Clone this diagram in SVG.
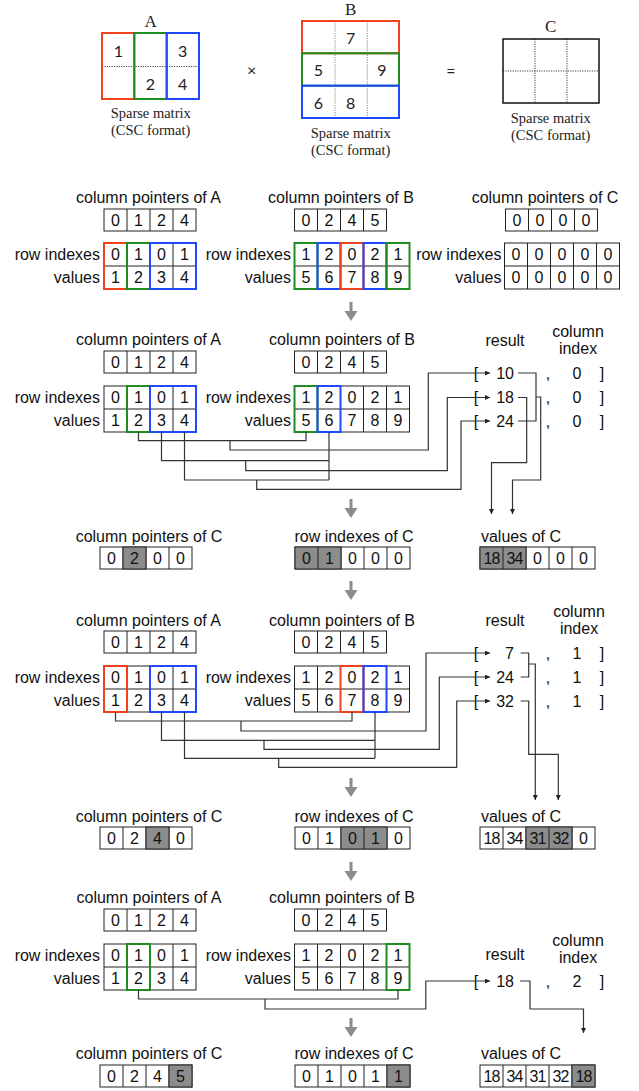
<svg xmlns="http://www.w3.org/2000/svg" width="639" height="1091" viewBox="0 0 639 1091">
<style>
.s{font-family:"Liberation Sans",Arial,sans-serif;font-size:16px;fill:#111;dominant-baseline:central}
.m{text-anchor:middle}
.e{text-anchor:end}
.sf{font-family:"Liberation Serif","Times New Roman",serif;fill:#222;text-anchor:middle;dominant-baseline:central}
.cap{font-size:14.5px}
.ttl{font-size:17px}
.md{font-family:Lato,"Noto Sans",sans-serif;font-size:16px;fill:#222;text-anchor:middle;dominant-baseline:central}
.cell{fill:#fff;stroke:#222;stroke-width:1}
.grid{fill:none;stroke:#222;stroke-width:1}
.hi{fill:#8c8c8c;stroke:#222;stroke-width:1}
.red{fill:none;stroke:#f2401d;stroke-width:2}
.grn{fill:none;stroke:#1e8c1e;stroke-width:2}
.blu{fill:none;stroke:#1f48ff;stroke-width:2}
.ln{fill:none;stroke:#333;stroke-width:1.2}
.step{fill:#8c8c8c}
.dot{fill:none;stroke:#111;stroke-width:0.8;stroke-dasharray:1.2 1.2}
.sm{font-size:16px;letter-spacing:-1px}
</style>
<defs>
<marker id="ah" viewBox="0 0 6 6" refX="6" refY="3" markerWidth="5" markerHeight="5" markerUnits="userSpaceOnUse" orient="auto"><path d="M0,0L6,3L0,6z" fill="#222"/></marker>
<g id="c4"><rect class="cell" width="92" height="22"/><path class="grid" d="M23,0v22M46,0v22M69,0v22"/></g>
<g id="c5"><rect class="cell" width="115" height="22"/><path class="grid" d="M23,0v22M46,0v22M69,0v22M92,0v22"/></g>
<g id="rv4"><rect class="cell" width="92" height="46"/><path class="grid" d="M0,23h92M23,0v46M46,0v46M69,0v46"/></g>
<g id="rv5"><rect class="cell" width="115" height="46"/><path class="grid" d="M0,23h115M23,0v46M46,0v46M69,0v46M92,0v46"/></g>
<path id="step" d="M-1.5,0h3v9h5l-6.5,10l-6.5,-10h5z"/>
</defs>
<rect width="639" height="1091" fill="#fff"/>

<!-- matrix A -->
<g id="matrix-a">
<text class="sf ttl" x="150.7" y="21">A</text>
<path class="dot" d="M102,66.5H199"/>
<rect class="red" x="102" y="33" width="32.3" height="66"/>
<rect class="grn" x="134.3" y="33" width="32.4" height="66"/>
<rect class="blu" x="166.7" y="33" width="32.3" height="66"/>
<text class="md" x="118.3" y="50">1</text>
<text class="md" x="182.7" y="50">3</text>
<text class="md" x="150.3" y="83">2</text>
<text class="md" x="182.7" y="83">4</text>
<text class="sf cap" x="150.7" y="113">Sparse matrix</text>
<text class="sf cap" x="150.7" y="130">(CSC format)</text>
</g>

<text class="md" x="251.7" y="69">×</text>

<!-- matrix B -->
<g id="matrix-b">
<text class="sf ttl" x="350.7" y="9">B</text>
<path class="dot" d="M335,21V118M367.3,21V118" style="stroke:#666"/>
<rect class="red" x="302" y="21" width="97" height="32.3"/>
<rect class="grn" x="302" y="53.3" width="97" height="32.4"/>
<rect class="blu" x="302" y="85.7" width="97" height="32.3"/>
<text class="md" x="350.7" y="37">7</text>
<text class="md" x="318.5" y="69.3">5</text>
<text class="md" x="382" y="69.3">9</text>
<text class="md" x="318.5" y="102">6</text>
<text class="md" x="350.7" y="102">8</text>
<text class="sf cap" x="350.7" y="133">Sparse matrix</text>
<text class="sf cap" x="350.7" y="150">(CSC format)</text>
</g>

<text class="md" x="451" y="70">=</text>

<!-- matrix C -->
<g id="matrix-c">
<text class="sf ttl" x="550.7" y="26">C</text>
<rect x="503" y="39" width="96" height="64" fill="none" stroke="#111" stroke-width="1.5"/>
<path class="dot" d="M535,39V103M567,39V103M503,71H599"/>
<text class="sf cap" x="550.7" y="117.5">Sparse matrix</text>
<text class="sf cap" x="550.7" y="135">(CSC format)</text>
</g>

<!-- initial arrays -->
<g id="init-a">
<text class="s m" x="148.5" y="197">column pointers of A</text>
<use href="#c4" x="104" y="209"/>
<text class="s m" x="115.5" y="220">0</text><text class="s m" x="138.5" y="220">1</text><text class="s m" x="161.5" y="220">2</text><text class="s m" x="184.5" y="220">4</text>
<text class="s e" x="100" y="254.5">row indexes</text>
<text class="s e" x="100" y="277.5">values</text>
<use href="#rv4" x="104" y="243"/>
<text class="s m" x="115.5" y="254.5">0</text><text class="s m" x="138.5" y="254.5">1</text><text class="s m" x="161.5" y="254.5">0</text><text class="s m" x="184.5" y="254.5">1</text>
<text class="s m" x="115.5" y="277.5">1</text><text class="s m" x="138.5" y="277.5">2</text><text class="s m" x="161.5" y="277.5">3</text><text class="s m" x="184.5" y="277.5">4</text>
<rect class="red" x="104" y="243" width="23" height="46"/>
<rect class="grn" x="127" y="243" width="23" height="46"/>
<rect class="blu" x="150" y="243" width="46" height="46"/>
</g>
<g id="init-b">
<text class="s m" x="341" y="197">column pointers of B</text>
<use href="#c4" x="294.5" y="209"/>
<text class="s m" x="306" y="220">0</text><text class="s m" x="329" y="220">2</text><text class="s m" x="352" y="220">4</text><text class="s m" x="375" y="220">5</text>
<text class="s e" x="291" y="254.5">row indexes</text>
<text class="s e" x="291" y="277.5">values</text>
<use href="#rv5" x="294.5" y="243"/>
<text class="s m" x="306" y="254.5">1</text><text class="s m" x="329" y="254.5">2</text><text class="s m" x="352" y="254.5">0</text><text class="s m" x="375" y="254.5">2</text><text class="s m" x="398" y="254.5">1</text>
<text class="s m" x="306" y="277.5">5</text><text class="s m" x="329" y="277.5">6</text><text class="s m" x="352" y="277.5">7</text><text class="s m" x="375" y="277.5">8</text><text class="s m" x="398" y="277.5">9</text>
<rect class="grn" x="294.5" y="243" width="23" height="46"/>
<rect class="blu" x="317.5" y="243" width="23" height="46"/>
<rect class="red" x="340.5" y="243" width="23" height="46"/>
<rect class="blu" x="363.5" y="243" width="23" height="46"/>
<rect class="grn" x="386.5" y="243" width="23" height="46"/>
</g>
<g id="init-c">
<text class="s m" x="545" y="197">column pointers of C</text>
<use href="#c4" x="505.5" y="209"/>
<text class="s m" x="517" y="220">0</text><text class="s m" x="540" y="220">0</text><text class="s m" x="563" y="220">0</text><text class="s m" x="586" y="220">0</text>
<text class="s e" x="501.5" y="254.5">row indexes</text>
<text class="s e" x="501.5" y="277.5">values</text>
<use href="#rv5" x="504.5" y="243"/>
<text class="s m" x="516" y="254.5">0</text><text class="s m" x="539" y="254.5">0</text><text class="s m" x="562" y="254.5">0</text><text class="s m" x="585" y="254.5">0</text><text class="s m" x="608" y="254.5">0</text>
<text class="s m" x="516" y="277.5">0</text><text class="s m" x="539" y="277.5">0</text><text class="s m" x="562" y="277.5">0</text><text class="s m" x="585" y="277.5">0</text><text class="s m" x="608" y="277.5">0</text>
</g>

<!-- step arrows -->
<g id="steps" class="step">
<use href="#step" x="351" y="302"/>
<use href="#step" x="351" y="499"/>
<use href="#step" x="351" y="581"/>
<use href="#step" x="351" y="778"/>
<use href="#step" x="351" y="862"/>
<use href="#step" x="351" y="1018"/>
</g>

<!-- column 0 of B -->
<g id="col0-a">
<text class="s m" x="148.5" y="339.5">column pointers of A</text>
<use href="#c4" x="104" y="351"/>
<text class="s m" x="115.5" y="362">0</text><text class="s m" x="138.5" y="362">1</text><text class="s m" x="161.5" y="362">2</text><text class="s m" x="184.5" y="362">4</text>
<text class="s e" x="100" y="397.5">row indexes</text>
<text class="s e" x="100" y="420.5">values</text>
<use href="#rv4" x="104" y="386"/>
<text class="s m" x="115.5" y="397.5">0</text><text class="s m" x="138.5" y="397.5">1</text><text class="s m" x="161.5" y="397.5">0</text><text class="s m" x="184.5" y="397.5">1</text>
<text class="s m" x="115.5" y="420.5">1</text><text class="s m" x="138.5" y="420.5">2</text><text class="s m" x="161.5" y="420.5">3</text><text class="s m" x="184.5" y="420.5">4</text>
<rect class="grn" x="127" y="386" width="23" height="46"/>
<rect class="blu" x="150" y="386" width="46" height="46"/>
</g>
<g id="col0-b">
<text class="s m" x="342" y="339.5">column pointers of B</text>
<use href="#c4" x="294.5" y="351"/>
<text class="s m" x="306" y="362">0</text><text class="s m" x="329" y="362">2</text><text class="s m" x="352" y="362">4</text><text class="s m" x="375" y="362">5</text>
<text class="s e" x="291" y="397.5">row indexes</text>
<text class="s e" x="291" y="420.5">values</text>
<use href="#rv5" x="294.5" y="386"/>
<text class="s m" x="306" y="397.5">1</text><text class="s m" x="329" y="397.5">2</text><text class="s m" x="352" y="397.5">0</text><text class="s m" x="375" y="397.5">2</text><text class="s m" x="398" y="397.5">1</text>
<text class="s m" x="306" y="420.5">5</text><text class="s m" x="329" y="420.5">6</text><text class="s m" x="352" y="420.5">7</text><text class="s m" x="375" y="420.5">8</text><text class="s m" x="398" y="420.5">9</text>
<rect class="grn" x="294.5" y="386" width="23" height="46"/>
<rect class="blu" x="317.5" y="386" width="23" height="46"/>
</g>
<g id="col0-result">
<text class="s m" x="505" y="340">result</text>
<text class="s m" x="578" y="331.5">column</text>
<text class="s m" x="578" y="348.5">index</text>
<text class="s m" x="476" y="373">[</text><text class="s e" x="514" y="373">10</text><text class="s m" x="548" y="373">,</text><text class="s m" x="577" y="373">0</text><text class="s m" x="602" y="373">]</text>
<text class="s m" x="476" y="397.5">[</text><text class="s e" x="514" y="397.5">18</text><text class="s m" x="548" y="397.5">,</text><text class="s m" x="577" y="397.5">0</text><text class="s m" x="602" y="397.5">]</text>
<text class="s m" x="476" y="421">[</text><text class="s e" x="514" y="421">24</text><text class="s m" x="548" y="421">,</text><text class="s m" x="577" y="421">0</text><text class="s m" x="602" y="421">]</text>
</g>

<g id="c-after-col0">
<text class="s m" x="149" y="536">column pointers of C</text>
<use href="#c4" x="100" y="547"/>
<rect class="hi" x="123" y="547" width="23" height="22"/>
<text class="s m" x="111.5" y="558">0</text><text class="s m" x="134.5" y="558">2</text><text class="s m" x="157.5" y="558">0</text><text class="s m" x="180.5" y="558">0</text>
<text class="s m" x="354" y="536">row indexes of C</text>
<use href="#c5" x="295" y="547"/>
<rect class="hi" x="295" y="547" width="46" height="22"/><path class="grid" d="M318,547v22"/>
<text class="s m" x="306.5" y="558">0</text><text class="s m" x="329.5" y="558">1</text><text class="s m" x="352.5" y="558">0</text><text class="s m" x="375.5" y="558">0</text><text class="s m" x="398.5" y="558">0</text>
<text class="s m" x="521" y="536">values of C</text>
<use href="#c5" x="480" y="547"/>
<rect class="hi" x="480" y="547" width="46" height="22"/><path class="grid" d="M503,547v22"/>
<text class="s m sm" x="491.5" y="558">18</text><text class="s m sm" x="514.5" y="558">34</text><text class="s m" x="537.5" y="558">0</text><text class="s m" x="560.5" y="558">0</text><text class="s m" x="583.5" y="558">0</text>
</g>

<!-- column 1 of B -->
<g id="col1-a">
<text class="s m" x="148.5" y="620">column pointers of A</text>
<use href="#c4" x="104" y="631"/>
<text class="s m" x="115.5" y="642">0</text><text class="s m" x="138.5" y="642">1</text><text class="s m" x="161.5" y="642">2</text><text class="s m" x="184.5" y="642">4</text>
<text class="s e" x="100" y="677.5">row indexes</text>
<text class="s e" x="100" y="700.5">values</text>
<use href="#rv4" x="104" y="666"/>
<text class="s m" x="115.5" y="677.5">0</text><text class="s m" x="138.5" y="677.5">1</text><text class="s m" x="161.5" y="677.5">0</text><text class="s m" x="184.5" y="677.5">1</text>
<text class="s m" x="115.5" y="700.5">1</text><text class="s m" x="138.5" y="700.5">2</text><text class="s m" x="161.5" y="700.5">3</text><text class="s m" x="184.5" y="700.5">4</text>
<rect class="red" x="104" y="666" width="23" height="46"/>
<rect class="blu" x="150" y="666" width="46" height="46"/>
</g>
<g id="col1-b">
<text class="s m" x="342" y="620">column pointers of B</text>
<use href="#c4" x="294.5" y="631"/>
<text class="s m" x="306" y="642">0</text><text class="s m" x="329" y="642">2</text><text class="s m" x="352" y="642">4</text><text class="s m" x="375" y="642">5</text>
<text class="s e" x="291" y="677.5">row indexes</text>
<text class="s e" x="291" y="700.5">values</text>
<use href="#rv5" x="294.5" y="666"/>
<text class="s m" x="306" y="677.5">1</text><text class="s m" x="329" y="677.5">2</text><text class="s m" x="352" y="677.5">0</text><text class="s m" x="375" y="677.5">2</text><text class="s m" x="398" y="677.5">1</text>
<text class="s m" x="306" y="700.5">5</text><text class="s m" x="329" y="700.5">6</text><text class="s m" x="352" y="700.5">7</text><text class="s m" x="375" y="700.5">8</text><text class="s m" x="398" y="700.5">9</text>
<rect class="red" x="340.5" y="666" width="23" height="46"/>
<rect class="blu" x="363.5" y="666" width="23" height="46"/>
</g>
<g id="col1-result">
<text class="s m" x="505" y="620">result</text>
<text class="s m" x="579" y="611.5">column</text>
<text class="s m" x="579" y="628">index</text>
<text class="s m" x="476" y="653">[</text><text class="s e" x="514" y="653">7</text><text class="s m" x="548" y="653">,</text><text class="s m" x="577" y="653">1</text><text class="s m" x="602" y="653">]</text>
<text class="s m" x="476" y="677">[</text><text class="s e" x="514" y="677">24</text><text class="s m" x="548" y="677">,</text><text class="s m" x="577" y="677">1</text><text class="s m" x="602" y="677">]</text>
<text class="s m" x="476" y="701">[</text><text class="s e" x="514" y="701">32</text><text class="s m" x="548" y="701">,</text><text class="s m" x="577" y="701">1</text><text class="s m" x="602" y="701">]</text>
</g>

<g id="c-after-col1">
<text class="s m" x="149" y="816">column pointers of C</text>
<use href="#c4" x="100" y="827"/>
<rect class="hi" x="146" y="827" width="23" height="22"/>
<text class="s m" x="111.5" y="838">0</text><text class="s m" x="134.5" y="838">2</text><text class="s m" x="157.5" y="838">4</text><text class="s m" x="180.5" y="838">0</text>
<text class="s m" x="354" y="816">row indexes of C</text>
<use href="#c5" x="295" y="827"/>
<rect class="hi" x="341" y="827" width="46" height="22"/><path class="grid" d="M364,827v22"/>
<text class="s m" x="306.5" y="838">0</text><text class="s m" x="329.5" y="838">1</text><text class="s m" x="352.5" y="838">0</text><text class="s m" x="375.5" y="838">1</text><text class="s m" x="398.5" y="838">0</text>
<text class="s m" x="521" y="816">values of C</text>
<use href="#c5" x="480" y="827"/>
<rect class="hi" x="526" y="827" width="46" height="22"/><path class="grid" d="M549,827v22"/>
<text class="s m sm" x="491.5" y="838">18</text><text class="s m sm" x="514.5" y="838">34</text><text class="s m sm" x="537.5" y="838">31</text><text class="s m sm" x="560.5" y="838">32</text><text class="s m" x="583.5" y="838">0</text>
</g>

<!-- column 2 of B -->
<g id="col2-a">
<text class="s m" x="149" y="897">column pointers of A</text>
<use href="#c4" x="104" y="909"/>
<text class="s m" x="115.5" y="920">0</text><text class="s m" x="138.5" y="920">1</text><text class="s m" x="161.5" y="920">2</text><text class="s m" x="184.5" y="920">4</text>
<text class="s e" x="100" y="955.5">row indexes</text>
<text class="s e" x="100" y="978.5">values</text>
<use href="#rv4" x="104" y="944"/>
<text class="s m" x="115.5" y="955.5">0</text><text class="s m" x="138.5" y="955.5">1</text><text class="s m" x="161.5" y="955.5">0</text><text class="s m" x="184.5" y="955.5">1</text>
<text class="s m" x="115.5" y="978.5">1</text><text class="s m" x="138.5" y="978.5">2</text><text class="s m" x="161.5" y="978.5">3</text><text class="s m" x="184.5" y="978.5">4</text>
<rect class="grn" x="127" y="944" width="23" height="46"/>
</g>
<g id="col2-b">
<text class="s m" x="342" y="897">column pointers of B</text>
<use href="#c4" x="294.5" y="909"/>
<text class="s m" x="306" y="920">0</text><text class="s m" x="329" y="920">2</text><text class="s m" x="352" y="920">4</text><text class="s m" x="375" y="920">5</text>
<text class="s e" x="291" y="955.5">row indexes</text>
<text class="s e" x="291" y="978.5">values</text>
<use href="#rv5" x="294.5" y="944"/>
<text class="s m" x="306" y="955.5">1</text><text class="s m" x="329" y="955.5">2</text><text class="s m" x="352" y="955.5">0</text><text class="s m" x="375" y="955.5">2</text><text class="s m" x="398" y="955.5">1</text>
<text class="s m" x="306" y="978.5">5</text><text class="s m" x="329" y="978.5">6</text><text class="s m" x="352" y="978.5">7</text><text class="s m" x="375" y="978.5">8</text><text class="s m" x="398" y="978.5">9</text>
<rect class="grn" x="386.5" y="944" width="23" height="46"/>
</g>
<g id="col2-result">
<text class="s m" x="505" y="954">result</text>
<text class="s m" x="578" y="940">column</text>
<text class="s m" x="578" y="957">index</text>
<text class="s m" x="476" y="981">[</text><text class="s e" x="514" y="981">18</text><text class="s m" x="548" y="981">,</text><text class="s m" x="577" y="981">2</text><text class="s m" x="602" y="981">]</text>
</g>

<g id="c-after-col2">
<text class="s m" x="149" y="1053">column pointers of C</text>
<use href="#c4" x="100" y="1065"/>
<rect class="hi" x="169" y="1065" width="23" height="22"/>
<text class="s m" x="111.5" y="1076">0</text><text class="s m" x="134.5" y="1076">2</text><text class="s m" x="157.5" y="1076">4</text><text class="s m" x="180.5" y="1076">5</text>
<text class="s m" x="354" y="1053">row indexes of C</text>
<use href="#c5" x="295" y="1065"/>
<rect class="hi" x="387" y="1065" width="23" height="22"/>
<text class="s m" x="306.5" y="1076">0</text><text class="s m" x="329.5" y="1076">1</text><text class="s m" x="352.5" y="1076">0</text><text class="s m" x="375.5" y="1076">1</text><text class="s m" x="398.5" y="1076">1</text>
<text class="s m" x="521" y="1053">values of C</text>
<use href="#c5" x="480" y="1065"/>
<rect class="hi" x="572" y="1065" width="23" height="22"/>
<text class="s m sm" x="491.5" y="1076">18</text><text class="s m sm" x="514.5" y="1076">34</text><text class="s m sm" x="537.5" y="1076">31</text><text class="s m sm" x="560.5" y="1076">32</text><text class="s m sm" x="583.5" y="1076">18</text>
</g>

<!-- products and sums -->
<g id="connectors">
<path class="ln" d="M138.5,432V440.7H306V432"/>
<path class="ln" d="M230,440.7V450H428.3V373H490" marker-end="url(#ah)"/>
<path class="ln" d="M161.5,432V460.7H329"/>
<path class="ln" d="M329,432V480"/>
<path class="ln" d="M184.5,432V480H329"/>
<path class="ln" d="M245.7,460.7V470.7H447.3V397.5H490" marker-end="url(#ah)"/>
<path class="ln" d="M256.7,480V489.3H461V421H490" marker-end="url(#ah)"/>
<path class="ln" d="M518,373H536V421H518"/>
<path class="ln" d="M536,397H540.7V480H512.5V514" marker-end="url(#ah)"/>
<path class="ln" d="M518,397.5H526.7V462.7H491.5V514" marker-end="url(#ah)"/>

<path class="ln" d="M115.5,712V721H352V712"/>
<path class="ln" d="M241,721V731H426V653H490" marker-end="url(#ah)"/>
<path class="ln" d="M161.5,712V740.3H375"/>
<path class="ln" d="M375,712V758.3"/>
<path class="ln" d="M184.5,712V758.3H375"/>
<path class="ln" d="M264,740.3V749.3H439.3V677H490" marker-end="url(#ah)"/>
<path class="ln" d="M278.7,758.3V767.3H456.7V701H490" marker-end="url(#ah)"/>
<path class="ln" d="M520.7,653H528.7V677H520.7"/>
<path class="ln" d="M528.7,664H535.3V800" marker-end="url(#ah)"/>
<path class="ln" d="M520.7,701H528.7V754.3H558.3V800" marker-end="url(#ah)"/>

<path class="ln" d="M138.5,990V999H398V990"/>
<path class="ln" d="M265,999V1009H425.8V981H490" marker-end="url(#ah)"/>
<path class="ln" d="M520,981H530V1009H583.5V1033" marker-end="url(#ah)"/>
</g>
</svg>
